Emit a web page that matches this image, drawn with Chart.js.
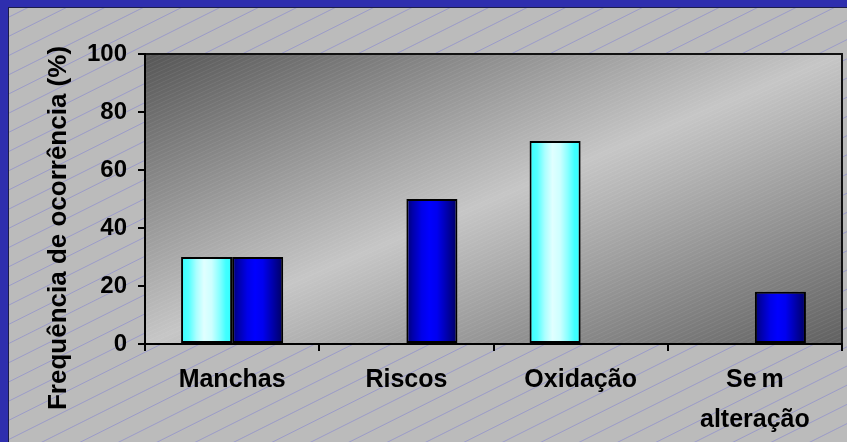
<!DOCTYPE html>
<html>
<head>
<meta charset="utf-8">
<script src="https://cdn.jsdelivr.net/npm/chart.js@4/dist/chart.umd.min.js"></script>
<style>
  html, body { margin: 0; padding: 0; background: #bababa; overflow: hidden; }
  #wrap { width: 847px; height: 442px; }
  canvas { display: block; }
</style>
</head>
<body>
<div id="wrap"><canvas id="chart" width="847" height="442"></canvas></div>
<script>
// Categories (multi-line labels are arrays of lines)
const categories = [["Manchas"], ["Riscos"], ["Oxidação"], ["Se\u2009m", "alteração"]];
// Frequency of occurrence (%) for each series
const seriesCyan = [30, 0, 70, 0];
const seriesBlue = [30, 50, 0, 18];
// Y axis tick values
const yTicks = [0, 20, 40, 60, 80, 100];

const FONT = "'Liberation Sans', Arial, Helvetica, sans-serif";
const CAT_PCT = 0.586;
// Y title is centred on the whole panel rather than on the axis span
const TITLE_SHIFT = 29;

const cyanStops = [[0, '#33ffff'], [0.15, '#55ffff'], [0.3, '#aaffff'], [0.45, '#e0ffff'], [0.6, '#ccffff'], [0.75, '#88ffff'], [0.88, '#40ffff'], [1, '#33ffff']];
const blueStops = [[0, '#000070'], [0.12, '#0000a8'], [0.3, '#0000e8'], [0.45, '#0000ff'], [0.6, '#0000f0'], [0.78, '#0000b0'], [1, '#000060']];

// Horizontal gradient spanning a single bar
function barFill(stops) {
  return (ctx) => {
    const fallback = stops[Math.floor(stops.length / 2)][1];
    if (ctx.type !== 'data') return fallback;
    const chart = ctx.chart;
    const xs = chart.scales && chart.scales.x;
    if (!xs || !isFinite(xs.width) || xs.width <= 0) return fallback;
    const cat = xs.width / categories.length;
    const groupW = cat * CAT_PCT;
    const barW = groupW / 2;
    const left = xs.getPixelForValue(ctx.dataIndex) - groupW / 2 + ctx.datasetIndex * barW;
    if (!isFinite(left)) return fallback;
    const g = chart.ctx.createLinearGradient(left, 0, left + barW, 0);
    stops.forEach(([o, c]) => g.addColorStop(o, c));
    return g;
  };
}

// Page backdrop: gray panel with diagonal rules, shaded plot area, blue frame
const backdrop = {
  id: 'backdrop',
  beforeDraw(chart) {
    const { ctx, width, height, chartArea: a } = chart;
    ctx.save();
    ctx.fillStyle = '#bbbbbb';
    ctx.fillRect(0, 0, width, height);

    ctx.strokeStyle = 'rgba(112,112,220,0.42)';
    ctx.lineWidth = 1;
    ctx.beginPath();
    for (let c = 2.3 - 19.2 * 3; c < height + width * 0.5 + 20; c += 19.2) {
      ctx.moveTo(0, c);
      ctx.lineTo(width, c - width * 0.5);
    }
    ctx.stroke();

    const w = a.right - a.left, h = a.bottom - a.top;
    const k = 2 * w * h / (w * w + h * h);
    const g = ctx.createLinearGradient(a.left, a.top, a.left + h * k, a.top + w * k);
    g.addColorStop(0, '#565656');
    g.addColorStop(0.5, '#c6c6c6');
    g.addColorStop(1, '#606060');
    ctx.fillStyle = g;
    ctx.fillRect(a.left, a.top, w, h);

    ctx.save();
    ctx.beginPath();
    ctx.rect(a.left, a.top, w, h);
    ctx.clip();
    ctx.strokeStyle = 'rgba(255,255,255,0.07)';
    ctx.beginPath();
    for (let c = a.top; c < a.bottom + w * 0.45 + 10; c += 4) {
      ctx.moveTo(a.left, c);
      ctx.lineTo(a.right, c - w * 0.45);
    }
    ctx.stroke();
    ctx.restore();

    ctx.strokeStyle = '#111111';
    ctx.lineWidth = 2;
    ctx.beginPath();
    ctx.moveTo(a.left, a.top);
    ctx.lineTo(a.right, a.top);
    ctx.lineTo(a.right, a.bottom);
    ctx.stroke();

    ctx.fillStyle = '#2e2eae';
    ctx.fillRect(0, 0, width, 7);
    ctx.fillRect(0, 0, 8, height);
    ctx.fillStyle = '#1c1c48';
    ctx.fillRect(8, 7, width - 8, 1);
    ctx.fillRect(8, 7, 1, height - 7);
    ctx.restore();
  }
};

const chart = new Chart(document.getElementById('chart'), {
  type: 'bar',
  data: {
    labels: categories,
    datasets: [
      {
        label: 'Série 1',
        data: seriesCyan,
        backgroundColor: barFill(cyanStops),
        borderColor: '#000000',
        borderWidth: (ctx) => (ctx.raw ? 2 : 0),
        borderSkipped: false
      },
      {
        label: 'Série 2',
        data: seriesBlue,
        backgroundColor: barFill(blueStops),
        borderColor: '#000000',
        borderWidth: (ctx) => (ctx.raw ? 2 : 0),
        borderSkipped: false
      }
    ]
  },
  options: {
    responsive: false,
    animation: false,
    devicePixelRatio: 1,
    layout: { padding: { top: 54, right: 5, left: 0, bottom: 0 } },
    plugins: {
      legend: { display: false },
      tooltip: { enabled: false }
    },
    datasets: {
      bar: { categoryPercentage: CAT_PCT, barPercentage: 1 }
    },
    scales: {
      x: {
        offset: true,
        grid: { offset: true, drawOnChartArea: false, drawTicks: true, tickLength: 7, color: '#000000', lineWidth: 2 },
        border: { display: true, color: '#000000', width: 2 },
        ticks: {
          color: '#000000',
          font: { family: FONT, size: 25, weight: 'bold', lineHeight: 1.6 },
          padding: 9,
          maxRotation: 0,
          minRotation: 0,
          autoSkip: false
        },
        afterFit(scale) { scale.height = 98; }
      },
      y: {
        min: 0,
        max: 100,
        afterBuildTicks(scale) { scale.ticks = yTicks.map(v => ({ value: v })); },
        grid: { drawOnChartArea: false, drawTicks: true, tickLength: 7, color: '#000000', lineWidth: 2 },
        border: { display: true, color: '#000000', width: 2 },
        ticks: {
          color: '#000000',
          font: { family: FONT, size: 24, weight: 'bold' },
          padding: 11
        },
        title: {
          display: true,
          text: 'Frequência de ocorrência (%)',
          color: '#000000',
          font: { family: FONT, size: 26, weight: 'bold' },
          padding: { top: 43, bottom: 0 }
        },
        afterFit(scale) {
          scale.width = 145;
          if (!scale._titleShifted) {
            const drawTitle = scale.drawTitle;
            scale.drawTitle = function () {
              const t = this.top, b = this.bottom;
              this.top = t + TITLE_SHIFT;
              this.bottom = b + TITLE_SHIFT;
              drawTitle.call(this);
              this.top = t;
              this.bottom = b;
            };
            scale._titleShifted = true;
          }
        }
      }
    }
  },
  plugins: [backdrop]
});
</script>
</body>
</html>
